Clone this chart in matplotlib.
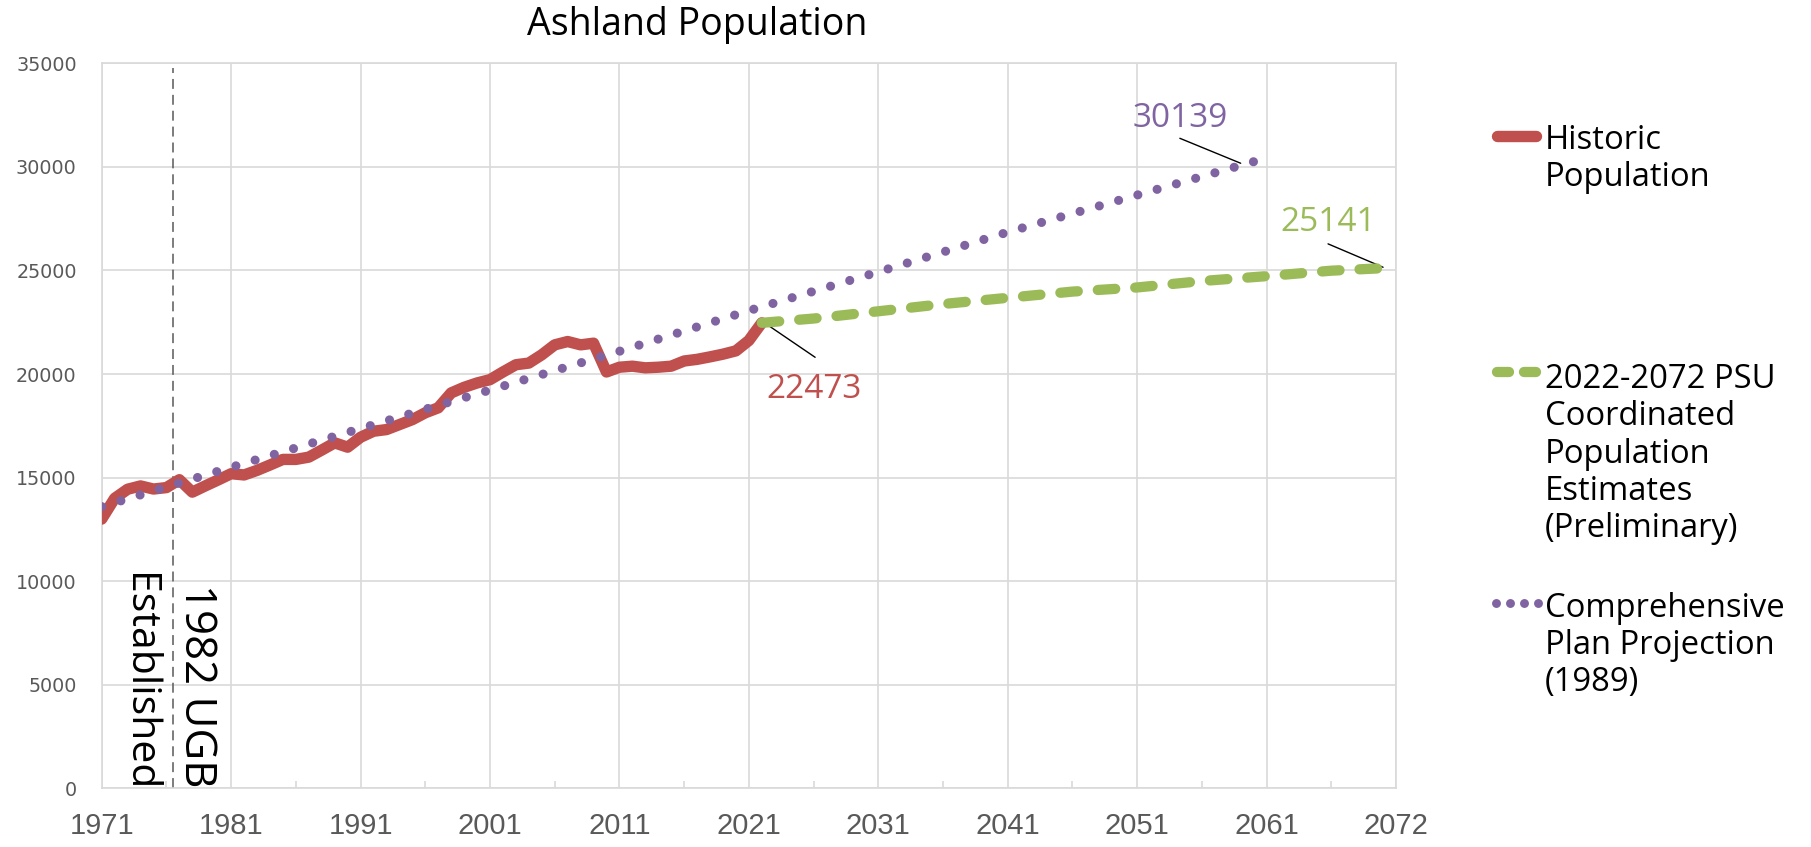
import matplotlib
matplotlib.use("Agg")
import matplotlib.pyplot as plt

# ---------------- data ----------------
hist_years = list(range(1971, 2023))
hist_pop = [13000, 14000, 14440, 14600, 14450, 14520, 14900, 14300, 14600, 14890,
            15190, 15130, 15350, 15610, 15880, 15880, 15990, 16330, 16680, 16470,
            16950, 17240, 17320, 17560, 17800, 18130, 18370, 19090, 19360, 19570,
            19730, 20100, 20450, 20530, 20930, 21410, 21570, 21410, 21490, 20100,
            20330, 20380, 20300, 20330, 20380, 20630, 20710, 20830, 20960, 21120,
            21620, 22473]

# category positions on the (category) x axis
psu_cat = [51, 55, 60, 65, 70, 75, 80, 85, 90, 95, 100]
psu_pop = [22473, 22680, 23030, 23380, 23680, 23980, 24180, 24490, 24726, 24990, 25141]

comp_cat = [0, 10, 20, 30, 40, 50, 60, 70, 80, 89]
comp_pop = [13600, 15500, 17370, 19230, 21100, 23060, 24930, 26850, 28640, 30250]

xtick_cat = [0, 10, 20, 30, 40, 50, 60, 70, 80, 90, 100]
xtick_labels = ["1971", "1981", "1991", "2001", "2011", "2021", "2031", "2041", "2051", "2061", "2072"]
yticks = [0, 5000, 10000, 15000, 20000, 25000, 30000, 35000]

hist_cat = [y - 1971 for y in hist_years]

RED = "#C0504D"
GREEN = "#9BBB59"
PURPLE = "#8064A2"
GRID = "#D9D9D9"
TICK = "#595959"

W, H = 1811, 847
fig = plt.figure(figsize=(W / 100, H / 100), dpi=100)

ax = fig.add_axes([101.7 / W, 1 - 788.4 / H, (1396 - 101.7) / W, (788.4 - 63.3) / H])
ax.set_xlim(0, 100)
ax.set_ylim(0, 35000)

# series
RED_LW, GREEN_LW, PURPLE_LW = 8.2, 7.4, 6.6
ax.plot(hist_cat, hist_pop, color=RED, lw=RED_LW, solid_capstyle="round",
        solid_joinstyle="round", zorder=3)
ax.plot(psu_cat, psu_pop, color=GREEN, lw=GREEN_LW, linestyle=(0, (1.7, 1.95)),
        dash_capstyle="round", zorder=4)
ax.plot(comp_cat, comp_pop, color=PURPLE, lw=PURPLE_LW, linestyle=(0, (0.001, 2.185)),
        dash_capstyle="round", zorder=5)

# axes styling
ax.set_xticks(xtick_cat)
ax.set_xticklabels(xtick_labels)
ax.set_xticks([c + 5 for c in xtick_cat[:-1]], minor=True)
ax.set_yticks(yticks)
ax.set_yticklabels([str(v) for v in yticks])
ax.grid(True, which="major", color=GRID, lw=1.2, zorder=0)
for s in ax.spines.values():
    s.set_color(GRID)
    s.set_linewidth(1.2)
ax.tick_params(axis="x", which="major", length=0, pad=17, labelsize=21,
               labelcolor=TICK, labelfontfamily="Liberation Sans")
ax.tick_params(axis="x", which="minor", direction="in", length=5, width=1.2, color=GRID)
ax.tick_params(axis="y", which="major", length=0, pad=18, labelsize=13.8,
               labelcolor=TICK, labelfontfamily="DejaVu Sans")

# UGB vertical line and text
ax.axvline(5.5, ymin=0, ymax=0.993, color="#595959", lw=1.1,
           linestyle=(0, (6.5, 3.9)), zorder=2)
ugb_font = ["Open Sans", "DejaVu Sans"]
ax.text(6.44, 9850, "1982 UGB", rotation=270, rotation_mode="anchor",
        ha="left", va="baseline", fontsize=31.5, family=ugb_font, color="black")
ax.text(2.03, 10400, "Established", rotation=270, rotation_mode="anchor",
        ha="left", va="baseline", fontsize=29.5, family=ugb_font, color="black")

# data labels with leader lines
lab_font = ["Open Sans", "DejaVu Sans"]
ax.annotate("", xy=(88.0, 30175), xytext=(83.3, 31380),
            arrowprops=dict(arrowstyle="-", color="black", lw=1.0, shrinkA=0, shrinkB=0))
ax.text(83.34, 31927, "30139", ha="center", va="baseline", fontsize=24,
        family=lab_font, color=PURPLE)
ax.annotate("", xy=(99.0, 25155), xytext=(94.75, 26284),
            arrowprops=dict(arrowstyle="-", color="black", lw=1.0, shrinkA=0, shrinkB=0))
ax.text(94.73, 26907, "25141", ha="center", va="baseline", fontsize=24,
        family=lab_font, color=GREEN)
ax.annotate("", xy=(55.12, 20810), xytext=(51.08, 22528),
            arrowprops=dict(arrowstyle="-", color="black", lw=1.0, shrinkA=0, shrinkB=0))
ax.text(55.06, 18831, "22473", ha="center", va="baseline", fontsize=24,
        family=lab_font, color=RED)

# overlay (pixel coordinates) for title and legend
ov = fig.add_axes([0, 0, 1, 1], facecolor="none")
ov.set_xlim(0, W)
ov.set_ylim(H, 0)
ov.axis("off")

ov.text(697.5, 35, "Ashland Population", ha="center", va="baseline",
        fontsize=27, family=lab_font, color="black")

leg_fs = 23.6
ls = 1.17
step = ls * leg_fs * 100 / 72
tx = 1545
ov.plot([1497, 1536], [136, 136], color=RED, lw=RED_LW, solid_capstyle="round")
ov.text(tx, 147.7 + step, "Historic\nPopulation", ha="left", va="baseline",
        fontsize=leg_fs, family=lab_font, color="black", linespacing=ls)

ov.plot([1497, 1509], [372, 372], color=GREEN, lw=GREEN_LW, solid_capstyle="round")
ov.plot([1524, 1536], [372, 372], color=GREEN, lw=GREEN_LW, solid_capstyle="round")
ov.text(tx, 383.7 + 4 * step, "2022-2072 PSU\nCoordinated\nPopulation\nEstimates\n(Preliminary)",
        ha="left", va="baseline", fontsize=leg_fs, family=lab_font, color="black",
        linespacing=ls)

ov.plot([1496, 1510, 1524, 1538], [603, 603, 603, 603], linestyle="none",
        marker="o", markersize=6.4, color=PURPLE, markeredgewidth=0)
ov.text(tx, 614.7 + 2 * step, "Comprehensive\nPlan Projection\n(1989)", ha="left", va="baseline",
        fontsize=leg_fs, family=lab_font, color="black", linespacing=ls)

fig.savefig("out.png", dpi=100)
